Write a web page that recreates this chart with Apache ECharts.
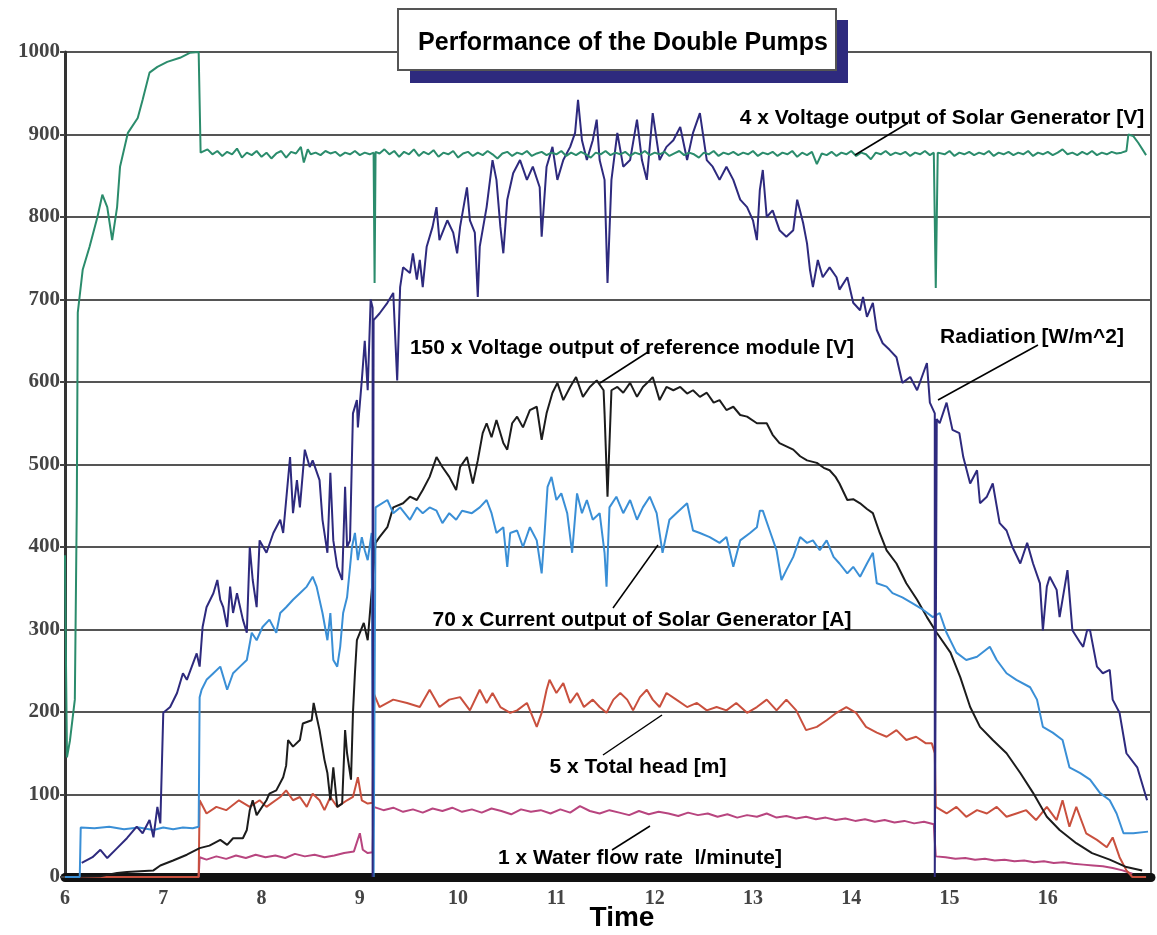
<!DOCTYPE html>
<html><head><meta charset="utf-8">
<script src="https://cdn.jsdelivr.net/npm/echarts@6/dist/echarts.min.js"></script>
<style>html,body{margin:0;padding:0;background:#fff}#c{width:1157px;height:935px}</style>
</head><body><div id="c"></div>
<script>
// ---- DATA (time in hours, value in scaled units) ----
const xTicks = [6,7,8,9,10,11,12,13,14,15,16];
const yTicks = [0,100,200,300,400,500,600,700,800,900,1000];

const voltage4x = [[6.00,390],[6.01,260],[6.02,145],[6.05,165],[6.10,215],[6.12,450],[6.13,684],[6.18,736],[6.25,764],[6.33,800],[6.38,827],[6.43,812],[6.48,772],[6.53,812],[6.56,861],[6.64,902],[6.74,920],[6.79,942],[6.86,975],[6.94,982],[7.04,988],[7.17,993],[7.27,999],[7.36,1000],[7.38,878],
[7.45,882],[7.5,876],[7.55,880],[7.6,874],[7.65,879],[7.7,876],[7.75,883],[7.8,872],[7.85,878],[7.9,875],[7.95,880],[8.0,873],[8.05,878],[8.1,871],[8.15,877],[8.2,880],[8.25,872],[8.3,879],[8.35,877],[8.4,885],[8.43,866],[8.47,882],[8.5,876],[8.55,878],[8.6,875],[8.65,880],[8.7,877],[8.75,879],[8.8,874],[8.85,878],[8.9,876],[8.95,880],[9.0,875],[9.05,878],[9.1,876],[9.14,878],[9.15,720],[9.16,879],[9.2,877],
[9.25,882],[9.3,876],[9.35,880],[9.4,873],[9.45,879],[9.5,876],[9.55,882],[9.6,874],[9.65,879],[9.7,876],[9.75,881],[9.8,873],[9.85,878],[9.9,876],[9.95,880],[10.0,872],[10.05,877],[10.1,879],[10.15,874],[10.2,878],[10.25,875],[10.3,880],[10.35,876],[10.4,871],[10.45,877],[10.5,879],[10.55,874],[10.6,878],[10.65,876],[10.7,880],[10.75,874],[10.8,877],[10.85,879],[10.9,875],[10.95,878],[11.0,876],[11.05,880],[11.1,874],[11.15,878],[11.2,875],[11.25,879],[11.3,876],[11.35,872],[11.4,878],[11.45,876],[11.5,880],[11.55,875],[11.6,878],[11.65,876],[11.7,879],[11.75,874],[11.8,878],[11.85,876],[11.9,880],[11.95,875],[12.0,878],
[12.05,876],[12.1,879],[12.15,874],[12.2,877],[12.25,880],[12.3,875],[12.35,878],[12.4,876],[12.45,872],[12.5,878],[12.55,876],[12.6,880],[12.65,874],[12.7,878],[12.75,876],[12.8,879],[12.85,875],[12.9,878],[12.95,876],[13.0,880],[13.05,874],[13.1,878],[13.15,876],[13.2,879],[13.25,874],[13.3,878],[13.35,876],[13.4,880],[13.45,873],[13.5,878],[13.55,875],[13.6,879],[13.65,864],[13.7,877],[13.75,875],[13.8,879],[13.85,874],[13.9,878],[13.95,876],[14.0,880],[14.05,874],[14.1,878],[14.15,876],[14.2,870],[14.25,878],[14.3,876],[14.35,880],[14.4,875],[14.45,878],[14.5,876],[14.55,879],[14.6,874],[14.65,878],[14.7,876],[14.75,880],[14.8,875],[14.84,878],[14.86,714],[14.88,878],
[14.95,876],[15.0,880],[15.05,874],[15.1,878],[15.15,876],[15.2,879],[15.25,875],[15.3,878],[15.35,876],[15.4,880],[15.45,874],[15.5,878],[15.55,876],[15.6,879],[15.65,875],[15.7,878],[15.75,876],[15.8,880],[15.85,874],[15.9,878],[15.95,876],[16.0,879],[16.05,875],[16.1,878],[16.15,882],[16.2,876],[16.25,878],[16.3,875],[16.35,879],[16.4,876],[16.45,880],[16.5,875],[16.55,878],[16.6,876],[16.65,879],[16.7,877],[16.75,878],[16.8,880],[16.82,900],[16.87,898],[16.92,890],[17.0,875]];

const radiation = [[6.17,17],[6.28,24],[6.36,33],[6.43,23],[6.53,35],[6.63,47],[6.73,61],[6.79,53],[6.86,69],[6.90,48],[6.94,85],[6.97,65],[7.00,199],[7.07,206],[7.14,223],[7.20,247],[7.24,239],[7.34,271],[7.37,255],[7.40,303],[7.44,327],[7.51,344],[7.55,360],[7.58,336],[7.61,327],[7.65,303],[7.68,352],[7.71,320],[7.75,344],[7.81,312],[7.85,296],[7.88,400],[7.91,360],[7.95,327],[7.98,408],[8.05,393],[8.12,417],[8.19,433],[8.22,417],[8.29,509],[8.32,441],[8.36,481],[8.39,448],[8.44,518],[8.49,497],[8.52,505],[8.59,481],[8.62,433],[8.67,393],[8.70,490],[8.73,408],[8.77,376],[8.82,360],[8.85,473],[8.87,400],[8.90,408],[8.93,562],[8.97,578],[8.98,545],[9.02,602],[9.05,650],[9.08,590],[9.11,700],[9.13,690],[9.13,0],[9.14,0],[9.14,675],
[9.20,683],[9.28,696],[9.34,708],[9.38,602],[9.41,715],[9.44,739],[9.51,732],[9.54,756],[9.58,724],[9.61,748],[9.64,715],[9.68,764],[9.74,788],[9.78,812],[9.81,772],[9.89,796],[9.95,781],[9.99,756],[10.02,788],[10.09,836],[10.12,796],[10.17,781],[10.20,703],[10.22,764],[10.29,812],[10.35,869],[10.39,845],[10.43,788],[10.46,756],[10.50,821],[10.56,853],[10.63,869],[10.70,845],[10.76,861],[10.83,836],[10.85,776],[10.90,861],[10.96,885],[11.01,845],[11.07,869],[11.14,885],[11.19,902],[11.22,942],[11.26,893],[11.31,869],[11.37,893],[11.41,918],[11.44,869],[11.49,845],[11.52,720],[11.56,845],[11.62,902],[11.68,861],[11.75,869],[11.82,918],[11.87,869],[11.92,845],[11.98,926],[12.05,869],[12.12,885],[12.19,893],[12.26,909],[12.33,869],[12.39,902],[12.46,926],[12.53,869],[12.59,861],[12.66,845],[12.73,861],[12.80,845],[12.87,821],[12.94,812],[13.00,796],[13.04,772],[13.07,833],[13.10,857],[13.14,800],[13.20,808],[13.27,784],[13.34,776],[13.41,784],[13.45,821],[13.51,793],[13.55,768],[13.58,736],[13.61,715],[13.66,748],[13.71,727],[13.78,739],[13.85,727],[13.88,712],[13.96,727],[14.02,696],[14.09,687],[14.12,703],[14.16,679],[14.22,696],[14.26,663],[14.32,647],[14.39,639],[14.46,630],[14.52,599],[14.60,606],[14.67,590],[14.77,623],[14.80,575],[14.85,562],[14.85,0],[14.86,0],[14.87,555],
[14.90,550],[14.97,575],[15.03,542],[15.10,538],[15.14,509],[15.21,477],[15.28,493],[15.31,453],[15.38,461],[15.44,477],[15.51,429],[15.58,420],[15.64,400],[15.72,380],[15.79,405],[15.85,380],[15.92,356],[15.95,299],[15.99,352],[16.02,364],[16.09,348],[16.12,315],[16.20,372],[16.25,299],[16.33,284],[16.36,279],[16.40,299],[16.43,299],[16.50,255],[16.56,247],[16.63,251],[16.66,215],[16.73,199],[16.80,150],[16.91,133],[17.01,93]];

const refModule150x = [[6.00,0],[6.36,1],[6.53,5],[6.63,6],[6.90,8],[6.97,14],[7.10,20],[7.24,27],[7.37,35],[7.47,38],[7.58,45],[7.65,39],[7.71,47],[7.81,47],[7.85,57],[7.88,81],[7.91,93],[7.95,75],[8.05,93],[8.08,101],[8.15,105],[8.22,121],[8.25,135],[8.27,166],[8.32,158],[8.39,166],[8.42,186],[8.51,190],[8.53,211],[8.59,178],[8.64,142],[8.67,126],[8.70,93],[8.73,133],[8.77,85],[8.82,89],[8.85,178],[8.87,150],[8.91,118],[8.93,199],[8.95,247],[8.97,287],[9.01,299],[9.04,308],[9.08,287],[9.13,360],[9.16,405],[9.20,412],[9.28,424],[9.34,448],[9.44,453],[9.51,461],[9.58,457],[9.64,469],[9.71,485],[9.78,509],[9.84,497],[9.91,485],[9.98,469],[10.02,497],[10.09,509],[10.15,477],[10.20,505],[10.25,538],[10.29,550],[10.34,533],[10.39,554],[10.46,526],[10.50,518],[10.55,550],[10.60,558],[10.66,545],[10.73,566],[10.80,570],[10.85,530],[10.90,562],[10.96,587],[11.01,599],[11.07,578],[11.14,594],[11.20,606],[11.27,582],[11.34,594],[11.41,602],[11.48,590],[11.49,562],[11.52,461],[11.56,590],[11.62,594],[11.68,587],[11.75,599],[11.82,582],[11.88,594],[11.95,602],[11.98,606],[12.05,578],[12.12,594],[12.19,590],[12.26,594],[12.33,586],[12.39,590],[12.46,582],[12.53,587],[12.60,575],[12.66,578],[12.73,566],[12.80,570],[12.87,560],[12.94,558],[13.04,550],[13.14,550],[13.20,536],[13.27,526],[13.34,522],[13.41,518],[13.48,510],[13.55,505],[13.65,502],[13.72,496],[13.78,493],[13.84,485],[13.88,477],[13.96,457],[14.02,458],[14.09,453],[14.16,446],[14.22,441],[14.29,417],[14.36,396],[14.46,380],[14.56,356],[14.67,336],[14.77,315],[14.87,296],[15.01,272],[15.11,242],[15.21,206],[15.31,182],[15.44,166],[15.58,150],[15.72,126],[15.85,102],[15.99,73],[16.12,57],[16.29,41],[16.45,29],[16.63,21],[16.80,12],[16.96,8]];

const current70x = [[6.00,0],[6.15,0],[6.16,60],[6.3,59],[6.45,61],[6.6,58],[6.75,60],[6.9,57],[7.0,60],[7.1,58],[7.2,60],[7.3,59],[7.36,61],[7.37,218],[7.39,227],[7.44,239],[7.51,247],[7.58,255],[7.65,227],[7.71,247],[7.78,255],[7.85,263],[7.90,296],[7.95,287],[8.01,303],[8.08,312],[8.15,296],[8.19,320],[8.25,327],[8.32,336],[8.39,344],[8.46,352],[8.52,364],[8.56,352],[8.62,320],[8.67,287],[8.70,320],[8.73,263],[8.77,255],[8.80,279],[8.83,320],[8.87,339],[8.92,400],[8.95,417],[8.98,384],[9.02,412],[9.05,396],[9.08,384],[9.12,417],[9.14,0],[9.15,0],[9.16,448],[9.28,457],[9.34,441],[9.41,448],[9.51,433],[9.58,448],[9.64,441],[9.71,448],[9.78,444],[9.84,429],[9.91,441],[9.98,433],[10.04,444],[10.14,441],[10.22,448],[10.29,457],[10.34,441],[10.39,417],[10.46,424],[10.50,376],[10.53,417],[10.60,420],[10.66,400],[10.73,424],[10.80,408],[10.85,368],[10.88,417],[10.91,473],[10.95,485],[11.00,457],[11.05,465],[11.11,441],[11.16,393],[11.21,465],[11.26,441],[11.31,457],[11.37,433],[11.44,441],[11.49,393],[11.51,352],[11.54,448],[11.61,461],[11.68,441],[11.75,457],[11.82,433],[11.88,448],[11.95,461],[12.02,441],[12.08,393],[12.15,433],[12.22,441],[12.33,453],[12.39,420],[12.46,417],[12.56,412],[12.66,405],[12.73,412],[12.80,376],[12.87,408],[12.97,417],[13.04,424],[13.07,444],[13.10,444],[13.17,420],[13.24,396],[13.29,360],[13.34,372],[13.41,388],[13.48,412],[13.55,405],[13.61,408],[13.68,396],[13.75,408],[13.82,388],[13.88,380],[13.96,368],[14.02,376],[14.09,364],[14.16,380],[14.22,393],[14.26,356],[14.36,352],[14.42,344],[14.52,339],[14.62,332],[14.73,324],[14.83,315],[14.90,320],[14.97,296],[15.07,272],[15.17,263],[15.28,267],[15.41,279],[15.48,263],[15.58,247],[15.68,239],[15.82,230],[15.89,215],[15.95,182],[16.05,175],[16.15,166],[16.22,133],[16.33,126],[16.43,118],[16.53,102],[16.63,93],[16.70,77],[16.77,53],[16.87,53],[17.02,55]];

const head5x = [[6.00,0],[7.36,0],[7.37,93],[7.44,77],[7.54,85],[7.64,81],[7.77,93],[7.88,85],[7.98,93],[8.05,85],[8.19,97],[8.25,105],[8.32,93],[8.39,97],[8.46,85],[8.52,101],[8.59,93],[8.64,81],[8.70,97],[8.77,85],[8.87,93],[8.93,97],[8.98,121],[9.02,93],[9.08,89],[9.13,90],[9.14,223],[9.20,206],[9.34,215],[9.48,211],[9.61,206],[9.71,227],[9.81,206],[9.91,215],[10.02,218],[10.12,202],[10.22,227],[10.29,211],[10.35,223],[10.43,206],[10.53,199],[10.60,202],[10.70,211],[10.80,182],[10.85,199],[10.90,227],[10.93,239],[11.00,223],[11.07,235],[11.14,211],[11.21,223],[11.28,206],[11.37,215],[11.44,206],[11.51,199],[11.58,215],[11.65,223],[11.72,215],[11.78,202],[11.85,218],[11.92,227],[11.98,215],[12.05,206],[12.12,223],[12.22,215],[12.33,206],[12.43,211],[12.53,202],[12.63,206],[12.73,202],[12.83,211],[12.94,199],[13.04,206],[13.14,215],[13.24,202],[13.34,215],[13.44,202],[13.54,178],[13.65,182],[13.75,190],[13.85,199],[13.95,206],[14.05,199],[14.15,182],[14.26,175],[14.36,170],[14.46,178],[14.56,166],[14.66,170],[14.76,162],[14.82,162],[14.85,150],[14.86,85],[14.97,77],[15.07,85],[15.17,73],[15.28,81],[15.38,77],[15.48,85],[15.58,73],[15.68,77],[15.78,81],[15.88,69],[15.99,85],[16.09,69],[16.15,93],[16.22,61],[16.29,85],[16.39,53],[16.50,45],[16.60,36],[16.66,48],[16.73,24],[16.80,8],[16.86,0],[17.0,0]];

const flow1x = [[6.00,0],[7.36,0],[7.37,24],[7.44,21],[7.54,25],[7.64,22],[7.74,26],[7.84,23],[7.94,27],[8.04,24],[8.14,26],[8.24,23],[8.34,28],[8.44,25],[8.54,27],[8.64,24],[8.74,26],[8.84,29],[8.94,31],[9.00,53],[9.03,33],[9.08,29],[9.13,30],[9.14,85],[9.24,81],[9.34,84],[9.44,79],[9.54,82],[9.64,78],[9.74,83],[9.84,80],[9.94,84],[10.04,79],[10.14,82],[10.24,78],[10.34,83],[10.44,80],[10.54,76],[10.64,82],[10.74,79],[10.84,81],[10.94,77],[11.04,82],[11.14,78],[11.24,86],[11.34,80],[11.44,77],[11.54,81],[11.64,78],[11.74,75],[11.84,80],[11.94,76],[12.04,79],[12.14,77],[12.24,74],[12.34,78],[12.44,75],[12.54,77],[12.64,73],[12.74,76],[12.84,72],[12.94,75],[13.04,73],[13.14,77],[13.24,72],[13.34,74],[13.44,71],[13.54,73],[13.64,70],[13.74,72],[13.84,69],[13.94,71],[14.04,68],[14.14,70],[14.24,67],[14.34,69],[14.44,66],[14.54,68],[14.64,65],[14.74,67],[14.84,64],[14.86,25],[14.96,24],[15.06,22],[15.16,23],[15.26,21],[15.36,22],[15.46,20],[15.56,21],[15.66,19],[15.76,20],[15.86,18],[15.96,19],[16.06,17],[16.16,18],[16.26,16],[16.36,15],[16.46,14],[16.56,13],[16.66,11],[16.76,8],[16.86,4]];

const titleText = 'Performance of the Double Pumps';
const labels = ['4 x Voltage output of Solar Generator [V]','150 x Voltage output of reference module [V]','Radiation [W/m^2]','70 x Current output of Solar Generator [A]','5 x Total head [m]','1 x Water flow rate  l/minute]'];

// ---- CHART ----
const chart = echarts.init(document.getElementById('c'), null, {renderer:'canvas'});
const sans = '"Liberation Sans", Arial, sans-serif';
const serif = '"Liberation Serif", "Times New Roman", serif';
function line(name, data, color, w, z){
  return {name, type:'line', data, showSymbol:false, symbol:'none', z:z||2,
    lineStyle:{color, width:w||2}, itemStyle:{color}, animation:false};
}
// annotation layout (pixels): [label index, cx, cy, lx1, ly1, lx2, ly2]
const annLayout = [
  [0, 942, 118, 908, 123, 855, 155],
  [1, 632, 348, 648, 352, 600, 383],
  [2, 1032, 337, 1038, 345, 938, 400],
  [3, 642, 620, 658, 545, 613, 608],
  [4, 638, 767, 662, 715, 603, 755],
  [5, 640, 858, 650, 826, 612, 850]
];
const graphics = [
  {type:'rect', shape:{x:410, y:20, width:438, height:63}, style:{fill:'#2e2a7e'}, z:10},
  {type:'rect', shape:{x:398, y:9, width:438, height:61}, style:{fill:'#fff', stroke:'#555', lineWidth:2}, z:11},
  {type:'text', x:623, y:43, style:{text:titleText, font:'bold 25px '+sans, fill:'#000', textAlign:'center', textVerticalAlign:'middle'}, z:12}
];
annLayout.forEach(a=>{
  graphics.push({type:'text', x:a[1], y:a[2], style:{text:labels[a[0]], font:'bold 21px '+sans, fill:'#000', textAlign:'center', textVerticalAlign:'middle'}, z:12});
  graphics.push({type:'line', shape:{x1:a[3], y1:a[4], x2:a[5], y2:a[6]}, style:{stroke:'#000', lineWidth:1.5}, z:12});
});

chart.setOption({
  backgroundColor:'#fff',
  animation:false,
  grid:{left:65, right:6, top:52, bottom:58, containLabel:false, outerBoundsMode:'none'},
  xAxis:{type:'value', min:6, max:17.05, interval:1,
    name:'Time', nameLocation:'middle', nameGap:27, nameMoveOverlap:false,
    nameTextStyle:{fontFamily:sans, fontWeight:'bold', fontSize:28, color:'#000', padding:[0,0,0,28]},
    axisLine:{show:true, onZero:false, lineStyle:{color:'#111', width:9}},
    axisTick:{show:false},
    splitLine:{show:false},
    axisLabel:{margin:12, fontFamily:serif, fontSize:20, fontWeight:'bold', color:'#444',
      formatter:v=> (xTicks.indexOf(v)>=0 ? String(v) : '')}
  },
  yAxis:[{type:'value', min:0, max:1000, interval:100,
    axisLine:{show:true, lineStyle:{color:'#333', width:3}},
    axisTick:{show:true, length:5, lineStyle:{color:'#444', width:2}},
    splitLine:{show:true, lineStyle:{color:'#555', width:2}},
    axisLabel:{margin:5, fontFamily:serif, fontSize:21, fontWeight:'bold', color:'#444',
      formatter:v=> (yTicks.indexOf(v)>=0 ? String(v) : '')}
  },{type:'value', min:0, max:1000, position:'right',
    axisLine:{show:true, lineStyle:{color:'#555', width:2}},
    axisTick:{show:false}, axisLabel:{show:false}, splitLine:{show:false}}],
  series:[
    line('flow', flow1x, '#b8457f', 2, 2),
    line('head', head5x, '#c9503e', 2, 3),
    line('ref', refModule150x, '#1c1c1c', 2, 4),
    line('current', current70x, '#3a8fd6', 2, 5),
    line('radiation', radiation, '#2e2a7e', 2, 6),
    line('voltage', voltage4x, '#2b8c6c', 2, 7)
  ],
  graphic: graphics
});
</script>
</body></html>
